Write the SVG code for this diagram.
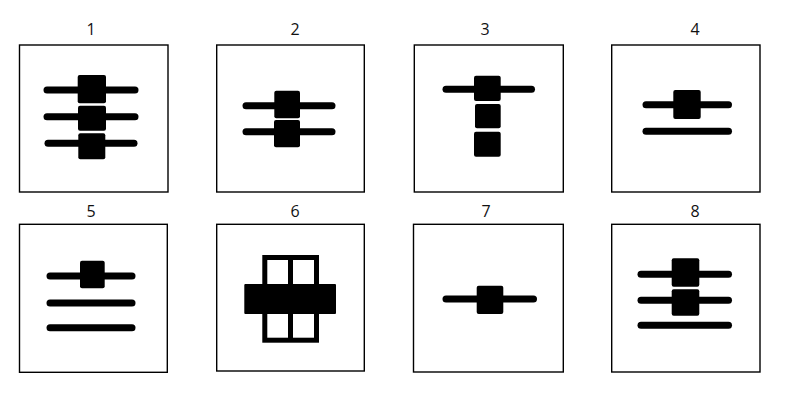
<svg xmlns="http://www.w3.org/2000/svg" width="800" height="400" viewBox="0 0 800 400">
<style>
.frame{fill:none;stroke:#000;stroke-width:1.4}
.bar{stroke:#000;stroke-width:7;stroke-linecap:round;fill:none}
.sq{fill:#000}
.lbl{font-family:"Open Sans","DejaVu Sans",sans-serif;font-size:16px;fill:#111;text-anchor:middle}
</style>
<rect width="800" height="400" fill="#fff"/>
<g id="panel1">
<text class="lbl" x="91" y="35">1</text>
<rect class="frame" x="19.5" y="45" width="148.5" height="147"/>
<line class="bar" x1="47" y1="90" x2="135" y2="90"/>
<line class="bar" x1="47" y1="116.7" x2="135" y2="116.7"/>
<line class="bar" x1="48" y1="143.3" x2="134" y2="143.3"/>
<rect class="sq" x="77.7" y="75" width="28.3" height="28.3" rx="2"/>
<rect class="sq" x="78" y="105.7" width="28" height="25" rx="2"/>
<rect class="sq" x="78.3" y="133.3" width="27" height="26" rx="2"/>
</g>
<g id="panel2">
<text class="lbl" x="295" y="35">2</text>
<rect class="frame" x="216.7" y="45" width="147.6" height="147"/>
<line class="bar" x1="246" y1="105.7" x2="332" y2="105.7"/>
<line class="bar" x1="246" y1="131.7" x2="332" y2="131.7"/>
<rect class="sq" x="274.3" y="90.7" width="25.7" height="27.6" rx="2"/>
<rect class="sq" x="274" y="120" width="26" height="27.3" rx="2"/>
</g>
<g id="panel3">
<text class="lbl" x="485" y="35">3</text>
<rect class="frame" x="414.3" y="45" width="149" height="147"/>
<line class="bar" x1="446" y1="89.3" x2="531.5" y2="89.3"/>
<rect class="sq" x="474" y="75.7" width="26.7" height="25.3" rx="2"/>
<rect class="sq" x="475" y="104" width="25.7" height="24.3" rx="2"/>
<rect class="sq" x="474" y="131.7" width="26.7" height="25" rx="2"/>
</g>
<g id="panel4">
<text class="lbl" x="695" y="35">4</text>
<rect class="frame" x="611.7" y="45" width="148.3" height="147"/>
<line class="bar" x1="646" y1="104.7" x2="728.5" y2="104.7"/>
<line class="bar" x1="646" y1="131.3" x2="728.5" y2="131.3"/>
<rect class="sq" x="673.3" y="90" width="27.4" height="29" rx="2"/>
</g>
<g id="panel5">
<text class="lbl" x="91" y="217">5</text>
<rect class="frame" x="19.5" y="224.3" width="147.8" height="148"/>
<line class="bar" x1="50" y1="276" x2="132" y2="276"/>
<line class="bar" x1="50" y1="303" x2="132" y2="303"/>
<line class="bar" x1="50" y1="327.7" x2="132" y2="327.7"/>
<rect class="sq" x="80" y="260.7" width="24.7" height="27.6" rx="2"/>
</g>
<g id="panel6">
<text class="lbl" x="295" y="217">6</text>
<rect class="frame" x="216.7" y="224.3" width="147.6" height="146.7"/>
<rect x="264.8" y="257.5" width="51.7" height="82.7" fill="none" stroke="#000" stroke-width="5"/>
<line x1="290.5" y1="257.5" x2="290.5" y2="340.2" stroke="#000" stroke-width="5"/>
<rect class="sq" x="244.3" y="284" width="91.7" height="30" rx="1"/>
</g>
<g id="panel7">
<text class="lbl" x="486" y="217">7</text>
<rect class="frame" x="413.5" y="224.3" width="149.8" height="147.7"/>
<line class="bar" x1="446" y1="299" x2="533.5" y2="299"/>
<rect class="sq" x="476.7" y="285.7" width="26.6" height="28.3" rx="2"/>
</g>
<g id="panel8">
<text class="lbl" x="695" y="217">8</text>
<rect class="frame" x="611.7" y="224.3" width="148.3" height="147.7"/>
<line class="bar" x1="641" y1="274.3" x2="728.5" y2="274.3"/>
<line class="bar" x1="641" y1="300.3" x2="728.5" y2="300.3"/>
<line class="bar" x1="641" y1="325.3" x2="728.5" y2="325.3"/>
<rect class="sq" x="671.7" y="258.3" width="27.6" height="28.4" rx="2"/>
<rect class="sq" x="671.7" y="289.3" width="27.6" height="26.4" rx="2"/>
</g>
</svg>
